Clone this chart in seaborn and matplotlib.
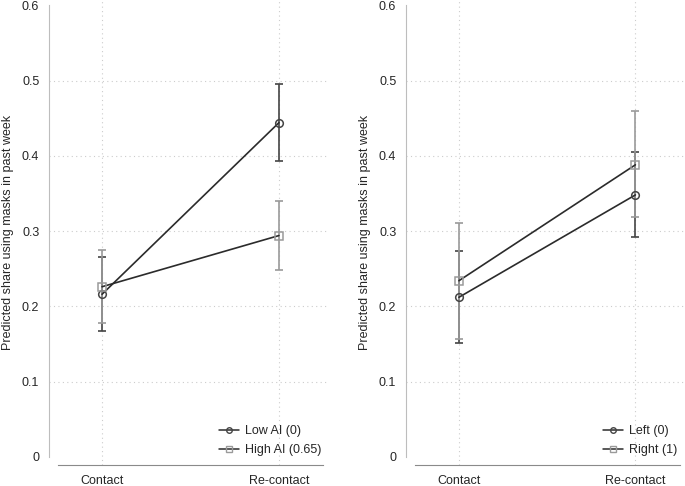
import numpy as np
import pandas as pd
import matplotlib
matplotlib.use("Agg")
import matplotlib.pyplot as plt
from matplotlib.lines import Line2D
import seaborn as sns

# ── Data ─────────────────────────────────────────────────────────────────────
WAVES = ["Contact", "Re-contact"]
Y_TICKS = [0, 0.1, 0.2, 0.3, 0.4, 0.5, 0.6]
Y_LABEL = "Predicted share using masks in past week"

# left panel: ideology x AI
LEFT_GROUPS = ["Low AI (0)", "High AI (0.65)"]
low_ai_mean  = [0.216, 0.444]
low_ai_lo    = [0.167, 0.393]
low_ai_hi    = [0.266, 0.496]
high_ai_mean = [0.226, 0.294]
high_ai_lo   = [0.178, 0.248]
high_ai_hi   = [0.275, 0.340]

# right panel: left / right
RIGHT_GROUPS = ["Left (0)", "Right (1)"]
left_mean  = [0.212, 0.348]
left_lo    = [0.151, 0.292]
left_hi    = [0.273, 0.405]
right_mean = [0.234, 0.388]
right_lo   = [0.157, 0.318]
right_hi   = [0.311, 0.459]

# ── Style ────────────────────────────────────────────────────────────────────
sns.set_style("white")
plt.rcParams["font.family"] = ["Liberation Sans", "DejaVu Sans"]
plt.rcParams["font.size"] = 9

LINE_COL = "#2b2b2b"
DARK_COL = "#444444"
GRAY_COL = "#9a9a9a"
GRID_COL = "#cccccc"


def draw_panel(ax, groups, series):
    rows = []
    for g, (mean, lo, hi) in zip(groups, series):
        for i, w in enumerate(WAVES):
            rows.append({"group": g, "x": i, "wave": w,
                         "mean": mean[i], "lo": lo[i], "hi": hi[i]})
    df = pd.DataFrame(rows)

    colors = [DARK_COL, GRAY_COL]
    markers = ["o", "s"]

    # error bars first so the lines sit on top
    for g, col in zip(groups, colors):
        d = df[df.group == g]
        ax.errorbar(d["x"], d["mean"],
                    yerr=[d["mean"] - d["lo"], d["hi"] - d["mean"]],
                    fmt="none", ecolor=col, elinewidth=1.2,
                    capsize=3, capthick=1.2, zorder=2)

    sns.lineplot(data=df, x="x", y="mean", hue="group", palette=[LINE_COL, LINE_COL],
                 ax=ax, legend=False, linewidth=1.2, zorder=3)

    for g, col, m in zip(groups, colors, markers):
        d = df[df.group == g]
        ax.plot(d["x"], d["mean"], linestyle="none", marker=m, markersize=5.5,
                markerfacecolor="none", markeredgecolor=col, markeredgewidth=1.1,
                zorder=4)

    # axes look
    ax.set_xlim(-0.30, 1.28)
    ax.set_ylim(-0.011, 0.607)
    ax.set_xticks([0, 1])
    ax.set_xticklabels(WAVES)
    ax.set_yticks(Y_TICKS)
    ax.set_yticklabels([f"{t:g}" for t in Y_TICKS])
    ax.set_xlabel("")
    ax.set_ylabel(Y_LABEL, labelpad=6)

    for t in Y_TICKS[1:-1]:
        ax.axhline(t, color=GRID_COL, linestyle=(0, (1, 3)), linewidth=0.8, zorder=0)
    for x in [0, 1]:
        ax.axvline(x, color=GRID_COL, linestyle=(0, (1, 3)), linewidth=0.8, zorder=0)

    ax.spines["top"].set_visible(False)
    ax.spines["right"].set_visible(False)
    ax.spines["left"].set_color("#bdbdbd")
    ax.spines["left"].set_bounds(0, 0.6)
    ax.spines["bottom"].set_color("#8a8a8a")
    ax.spines["bottom"].set_bounds(-0.25, 1.25)
    ax.tick_params(axis="y", length=4, width=0.8, color="#8a8a8a", pad=3)
    ax.tick_params(axis="x", length=4, width=0.8, color="#8a8a8a", pad=3)

    handles = [
        Line2D([0], [0], color=LINE_COL, lw=1.1, marker="o", markersize=4,
               markerfacecolor="none", markeredgecolor=DARK_COL),
        Line2D([0], [0], color=LINE_COL, lw=1.1, marker="s", markersize=4,
               markerfacecolor="none", markeredgecolor=GRAY_COL),
    ]
    ax.legend(handles, groups, loc="lower right", frameon=False,
              handlelength=1.6, handletextpad=0.5, labelspacing=0.55,
              bbox_to_anchor=(1.015, -0.005), fontsize=9)


fig = plt.figure(figsize=(6.85, 4.86), dpi=100)
ax_l = fig.add_axes([0.0715, 0.043, 0.408, 0.957])
ax_r = fig.add_axes([0.5927, 0.043, 0.407, 0.957])

draw_panel(ax_l, LEFT_GROUPS,
           [(low_ai_mean, low_ai_lo, low_ai_hi),
            (high_ai_mean, high_ai_lo, high_ai_hi)])
draw_panel(ax_r, RIGHT_GROUPS,
           [(left_mean, left_lo, left_hi),
            (right_mean, right_lo, right_hi)])

fig.savefig("out.png", dpi=100)
